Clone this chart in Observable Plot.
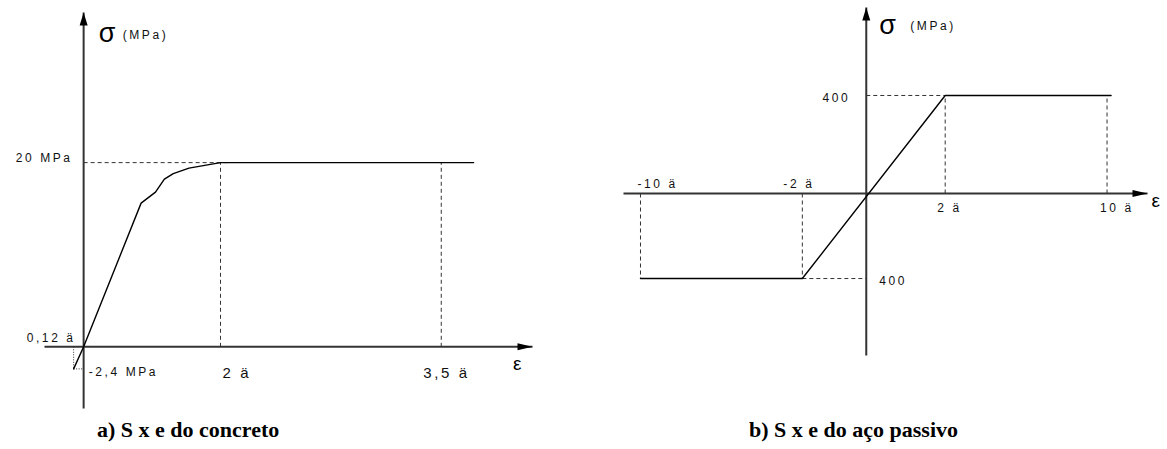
<!DOCTYPE html>
<html><head><meta charset="utf-8">
<script src="https://cdn.jsdelivr.net/npm/d3@7"></script>
<script src="https://cdn.jsdelivr.net/npm/@observablehq/plot@0.6"></script>
<style>
body{margin:0;background:#fff;width:1167px;height:449px;position:relative;overflow:hidden;font-family:"Liberation Sans",Arial,sans-serif}
#a{position:absolute;left:0;top:0}
#b{position:absolute;left:583px;top:0}
.cap{position:absolute;font-family:"Liberation Serif","Times New Roman",serif;font-weight:bold;font-size:22px;white-space:nowrap;line-height:1}
svg text{letter-spacing:2.6px}
</style></head><body>
<div id="a"></div><div id="b"></div>
<div class="cap" style="left:97px;top:419px">a) S x e do concreto</div>
<div class="cap" style="left:749px;top:419px">b) S x e do aço passivo</div>
<script>
// ---------- Chart a: concrete (σ x ε) ----------
const concEps = [-0.12, 0, 0.84, 1.05, 1.18, 1.31, 1.54, 2, 3.72];
const concSig = [-2.4, 0, 15.6, 16.8, 18.2, 18.8, 19.4, 20, 20];
const concTickEps = [2, 3.5];
const concTickLabels = ["2 ä", "3,5 ä"];
const concFc = 20, concFcLabel = "20 MPa";
const concFt = -2.4, concFtLabel = "-2,4 MPa";
const concEt = -0.12, concEtLabel = "0,12 ä";
const concAxisX = [-0.47, 4.12];
const concAxisY = [-6.7, 36.3];

// ---------- Chart b: steel (σ x ε) ----------
const steelEps = [-10, -2, 2, 10.2];
const steelSig = [-400, -400, 400, 400];
const steelTickPos = [2, 10];
const steelTickPosLabels = ["2 ä", "10 ä"];
const steelTickNeg = [-10, -2];
const steelTickNegLabels = ["-10 ä", "-2 ä"];
const steelFy = 400, steelFyLabel = "400";
const steelAxisX = [-10.84, 12];
const steelAxisY = [-762, 759];

const sigmaLabel = "σ", unitLabel = "(MPa)", epsLabel = "ε";

// The drawings are schematic (not to scale): strain/stress axes are stretched piecewise.
const warpA = d3.scaleLinear().domain([-0.12, 0, 2, 3.5]).range([-0.146, 0, 2, 5.226]);
const warpBx = d3.scaleLinear().domain([-10, -2, 0, 2, 10]).range([-5.721, -1.62, 0, 2, 6.101]);
const warpBy = d3.scaleLinear().domain([-400, 0, 400]).range([-347, 0, 400]);

const arrowUp = {draw(ctx){ctx.moveTo(0,0);ctx.lineTo(4,13);ctx.lineTo(-4,13);ctx.closePath();}};
const arrowRight = {draw(ctx){ctx.moveTo(0,0);ctx.lineTo(-15,-3.5);ctx.lineTo(-15,3.5);ctx.closePath();}};

const F = "Liberation Sans, Arial, sans-serif";
const AX = "#333";
const dash = {stroke: "#333", strokeWidth: 1, strokeDasharray: "4,3"};
const seg = (x1,y1,x2,y2)=>({x1,y1,x2,y2});

// Chart a
{
const W = warpA;
const lk = {x1:d=>W(d.x1), y1:"y1", x2:d=>W(d.x2), y2:"y2"};
const concData = concEps.map((e,i)=>({e, s: concSig[i]}));
const ca = Plot.plot({
  width: 583, height: 415, margin: 0,
  x: {domain: [W(concAxisX[0]), W(concAxisX[1])], range: [44, 532], axis: null},
  y: {domain: concAxisY, range: [408, 12], axis: null},
  marks: [
    Plot.link([seg(concAxisX[0],0,concAxisX[1],0), seg(0,concAxisY[0],0,concAxisY[1])], {...lk, stroke: AX, strokeWidth: 2}),
    Plot.dot([{x: concAxisX[1], y: 0}], {x:d=>W(d.x), y:"y", symbol: arrowRight, fill: "#000", stroke: "none"}),
    Plot.dot([{x: 0, y: concAxisY[1]}], {x:d=>W(d.x), y:"y", symbol: arrowUp, fill: "#000", stroke: "none"}),
    Plot.link([seg(0,concFc,2.05,concFc), ...concTickEps.map(e=>seg(e,0,e,concFc))], {...lk, ...dash}),
    Plot.link([seg(concEt,0,concEt,concFt), seg(concEt,concFt,0,concFt)], {...lk, stroke:"#333", strokeWidth:1, strokeDasharray:"1,1.5"}),
    Plot.line(concData, {x:d=>W(d.e), y:"s", stroke:"#000", strokeWidth:1.4}),
    Plot.text([concFcLabel], {x: W(0), y: concFc, text: d=>d, textAnchor:"end", dx:-11, dy:-4, fontSize:12, fontFamily:F, fill:"#111"}),
    Plot.text([concEtLabel], {x: W(0), y: 0, text: d=>d, textAnchor:"end", dx:-8, dy:-9, fontSize:12, fontFamily:F, fill:"#111"}),
    Plot.text([concFtLabel], {x: W(0), y: concFt, text: d=>d, textAnchor:"start", dx:5, dy:3, fontSize:12, fontFamily:F, fill:"#111"}),
    Plot.text([concTickEps[0]], {x: d=>W(d), y: 0, text: d=>concTickLabels[0], textAnchor:"start", dx:2, dy:26, fontSize:15, fontFamily:F, fill:"#111"}),
    Plot.text([concTickEps[1]], {x: d=>W(d), y: 0, text: d=>concTickLabels[1], textAnchor:"start", dx:-18, dy:26, fontSize:15, fontFamily:F, fill:"#111"}),
    Plot.text([sigmaLabel], {x:W(0), y:concAxisY[1], text:d=>d, textAnchor:"start", dx:15, dy:21, fontSize:27, fontFamily:F, fill:"#000"}),
    Plot.text([unitLabel], {x:W(0), y:concAxisY[1], text:d=>d, textAnchor:"start", dx:39, dy:23, fontSize:12, fontFamily:F, fill:"#111"}),
    Plot.text([epsLabel], {x:W(concAxisX[1]), y:0, text:d=>d, textAnchor:"middle", dx:-14, dy:17, fontSize:19, fontFamily:F, fill:"#000"})
  ]
});
document.getElementById("a").appendChild(ca);
}

// Chart b
{
const WX = warpBx, WY = warpBy;
const lk = {x1:d=>WX(d.x1), y1:d=>WY(d.y1), x2:d=>WX(d.x2), y2:d=>WY(d.y2)};
const steelData = steelEps.map((e,i)=>({e, s: steelSig[i]}));
const cb = Plot.plot({
  width: 584, height: 415, margin: 0,
  x: {domain: [WX(steelAxisX[0]), WX(steelAxisX[1])], range: [40, 564], axis: null},
  y: {domain: [WY(steelAxisY[0]), WY(steelAxisY[1])], range: [355, 7], axis: null},
  marks: [
    Plot.link([seg(steelAxisX[0],0,steelAxisX[1],0), seg(0,steelAxisY[0],0,steelAxisY[1])], {...lk, stroke: AX, strokeWidth: 2}),
    Plot.dot([{x: steelAxisX[1], y: 0}], {x:d=>WX(d.x), y:d=>WY(d.y), symbol: arrowRight, fill: "#000", stroke: "none"}),
    Plot.dot([{x: 0, y: steelAxisY[1]}], {x:d=>WX(d.x), y:d=>WY(d.y), symbol: arrowUp, fill: "#000", stroke: "none"}),
    Plot.link([
      seg(0,steelFy,2,steelFy), ...steelTickPos.map(e=>seg(e,0,e,steelFy)),
      seg(-2,-steelFy,0,-steelFy), ...steelTickNeg.map(e=>seg(e,0,e,-steelFy))
    ], {...lk, ...dash}),
    Plot.line(steelData, {x:d=>WX(d.e), y:d=>WY(d.s), stroke:"#000", strokeWidth:1.4}),
    Plot.text([steelFyLabel], {x:WX(0), y:WY(steelFy), text:d=>d, textAnchor:"end", dx:-16, dy:3, fontSize:12, fontFamily:F, fill:"#111"}),
    Plot.text([steelFyLabel], {x:WX(0), y:WY(-steelFy), text:d=>d, textAnchor:"start", dx:13, dy:3, fontSize:12, fontFamily:F, fill:"#111"}),
    Plot.text([steelTickNeg[0]], {x:d=>WX(d), y:WY(0), text:d=>steelTickNegLabels[0], textAnchor:"start", dx:-3, dy:-9, fontSize:12, fontFamily:F, fill:"#111"}),
    Plot.text([steelTickNeg[1]], {x:d=>WX(d), y:WY(0), text:d=>steelTickNegLabels[1], textAnchor:"start", dx:-19, dy:-9, fontSize:12, fontFamily:F, fill:"#111"}),
    Plot.text([steelTickPos[0]], {x:d=>WX(d), y:WY(0), text:d=>steelTickPosLabels[0], textAnchor:"start", dx:-8, dy:15, fontSize:12, fontFamily:F, fill:"#111"}),
    Plot.text([steelTickPos[1]], {x:d=>WX(d), y:WY(0), text:d=>steelTickPosLabels[1], textAnchor:"start", dx:-7, dy:15, fontSize:12, fontFamily:F, fill:"#111"}),
    Plot.text([sigmaLabel], {x:WX(0), y:WY(steelAxisY[1]), text:d=>d, textAnchor:"start", dx:13, dy:18, fontSize:27, fontFamily:F, fill:"#000"}),
    Plot.text([unitLabel], {x:WX(0), y:WY(steelAxisY[1]), text:d=>d, textAnchor:"start", dx:44, dy:19, fontSize:12, fontFamily:F, fill:"#111"}),
    Plot.text([epsLabel], {x:WX(steelAxisX[1]), y:WY(0), text:d=>d, textAnchor:"start", dx:4, dy:7, fontSize:19, fontFamily:F, fill:"#000"})
  ]
});
document.getElementById("b").appendChild(cb);
}
</script>
</body></html>
